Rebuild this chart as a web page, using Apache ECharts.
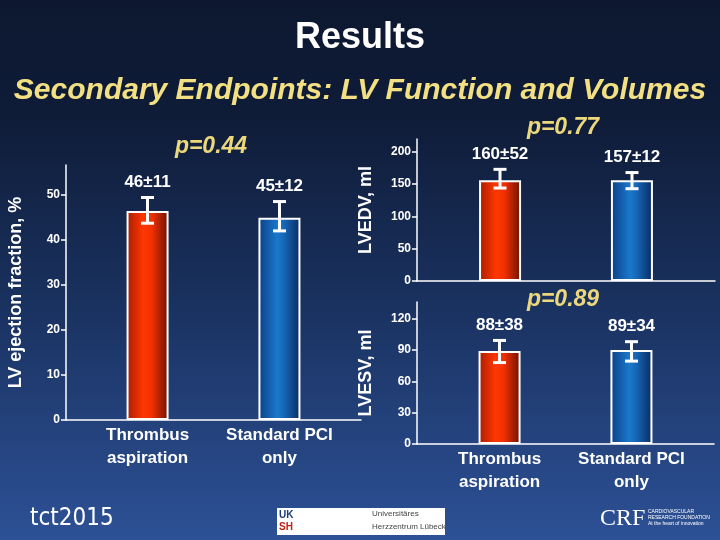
<!DOCTYPE html>
<html>
<head>
<meta charset="utf-8">
<script src="https://cdn.jsdelivr.net/npm/echarts@6/dist/echarts.min.js"></script>
<style>
html,body{margin:0;padding:0;width:720px;height:540px;overflow:hidden;background:#0d1830;}
#c{width:720px;height:540px;}
</style>
</head>
<body>
<div id="c"></div>
<script>
// ---- data ----
const categories = ['Thrombus\naspiration', 'Standard PCI\nonly'];
const pValues = ['p=0.44', 'p=0.77', 'p=0.89'];

const efMean = [46.3, 44.8];
const efLow = [43.6, 41.9];
const efHigh = [49.3, 48.4];
const efLabels = ['46±11', '45±12'];
const efTicks = [0, 10, 20, 30, 40, 50];

const edvMean = [156, 156];
const edvLow = [144, 143];
const edvHigh = [173, 168];
const edvLabels = ['160±52', '157±12'];
const edvTicks = [0, 50, 100, 150, 200];

const esvMean = [89, 90];
const esvLow = [78, 79.4];
const esvHigh = [99.2, 98];
const esvLabels = ['88±38', '89±34'];
const esvTicks = [0, 30, 60, 90, 120];

// ---- style ----
const FONT = '"Liberation Sans", Arial, sans-serif';
const BAR_W = 42;
const BAR_GAP_PX = 90;
const redGrad = {type:'linear',x:0,y:0,x2:1,y2:0,colorStops:[
  {offset:0,color:'#a81d00'},{offset:0.4,color:'#ff3700'},{offset:0.6,color:'#f23000'},{offset:1,color:'#6a1200'}]};
const blueGrad = {type:'linear',x:0,y:0,x2:1,y2:0,colorStops:[
  {offset:0,color:'#0b3f86'},{offset:0.45,color:'#1b78cc'},{offset:0.6,color:'#1668b8'},{offset:1,color:'#0a2a60'}]};

const chart = echarts.init(document.getElementById('c'), null, {renderer:'canvas'});

function yAxisFor(gridIndex, max, ticks, name) {
  return {
    type:'value', gridIndex, min:0, max,
    name, nameLocation:'middle', nameGap:42, nameRotate:90,
    nameTextStyle:{color:'#ffffff', fontFamily:FONT, fontWeight:'bold', fontSize:18},
    axisLine:{show:true, lineStyle:{color:'#ffffff', width:1.5}},
    axisTick:{show:true, inside:false, length:5, customValues:ticks, lineStyle:{color:'#ffffff', width:1.5}},
    axisLabel:{color:'#ffffff', fontFamily:FONT, fontWeight:'bold', fontSize:12, margin:6, customValues:ticks},
    splitLine:{show:false}
  };
}
function xAxisFor(gridIndex) {
  return {
    type:'category', gridIndex, data:['g'],
    axisLine:{show:true, lineStyle:{color:'#ffffff', width:1.5}},
    axisTick:{show:false}, axisLabel:{show:false}, splitLine:{show:false}
  };
}
function barsFor(idx, mean, showCat) {
  const grads = [redGrad, blueGrad];
  return [0,1].map(k => ({
    type:'bar', xAxisIndex:idx, yAxisIndex:idx,
    name: categories[k],
    data:[mean[k]],
    barWidth:BAR_W, barGap:(BAR_GAP_PX/BAR_W*100).toFixed(0)+'%',
    itemStyle:{color:grads[k], borderColor:'#ffffff', borderWidth:2},
    label:{show:showCat, position:'bottom', distance:4, formatter:categories[k],
      color:'#ffffff', fontFamily:FONT, fontWeight:'bold', fontSize:17, lineHeight:23, align:'center'},
    emphasis:{disabled:true},
    silent:true
  }));
}
function errorsFor(idx, low, high, labels) {
  const dx = (BAR_W + BAR_GAP_PX)/2;
  return {
    type:'custom', xAxisIndex:idx, yAxisIndex:idx, silent:true,
    data:[[0, low[0], high[0], 0], [0, low[1], high[1], 1]],
    encode:{x:0, y:[1,2]},
    z:10,
    renderItem:function(params, api){
      const k = api.value(3);
      const lo = api.coord([0, api.value(1)]);
      const hi = api.coord([0, api.value(2)]);
      const x = lo[0] + (k === 0 ? -dx : dx);
      const cap = 6.5;
      const st = {stroke:'#ffffff', lineWidth:3};
      return {type:'group', children:[
        {type:'line', shape:{x1:x, y1:lo[1], x2:x, y2:hi[1]}, style:st},
        {type:'line', shape:{x1:x-cap, y1:lo[1], x2:x+cap, y2:lo[1]}, style:st},
        {type:'line', shape:{x1:x-cap, y1:hi[1], x2:x+cap, y2:hi[1]}, style:st},
        {type:'text', style:{text:labels[k], x:x, y:hi[1]-15, textAlign:'center', textVerticalAlign:'middle',
          fill:'#ffffff', font:'bold 17px ' + FONT}}
      ]};
    }
  };
}

function txt(text, x, y, font, fill, align) {
  return {type:'text', silent:true, style:{text, x, y, font, fill, textAlign:align||'center', textVerticalAlign:'middle'}};
}

const option = {
  backgroundColor:{type:'linear',x:0,y:0,x2:0,y2:1,colorStops:[
    {offset:0,color:'#0d1830'},{offset:0.22,color:'#0f1c38'},{offset:0.6,color:'#1b3464'},{offset:1,color:'#2d5196'}]},
  animation:false,
  grid:[
    {left:66, right:359, top:165, bottom:120},
    {left:417, right:5, top:139, bottom:259},
    {left:417, right:6, top:302, bottom:96}
  ],
  xAxis:[xAxisFor(0), xAxisFor(1), xAxisFor(2)],
  yAxis:[
    Object.assign(yAxisFor(0, 56.5, efTicks, 'LV ejection fraction, %'), {nameGap:41}),
    yAxisFor(1, 220, edvTicks, 'LVEDV, ml'),
    yAxisFor(2, 136, esvTicks, 'LVESV, ml')
  ],
  series:[
    ...barsFor(0, efMean, true), errorsFor(0, efLow, efHigh, efLabels),
    ...barsFor(1, edvMean, false), errorsFor(1, edvLow, edvHigh, edvLabels),
    ...barsFor(2, esvMean, true), errorsFor(2, esvLow, esvHigh, esvLabels)
  ],
  graphic:[
    txt('Results', 360, 38, 'bold 36px ' + FONT, '#ffffff'),
    txt('Secondary Endpoints: LV Function and Volumes', 360, 91, 'italic bold 30px ' + FONT, '#f2e083'),
    txt(pValues[0], 211, 147, 'italic bold 23px ' + FONT, '#ecd87c'),
    txt(pValues[1], 563, 128, 'italic bold 23px ' + FONT, '#ecd87c'),
    txt(pValues[2], 563, 300, 'italic bold 23px ' + FONT, '#ecd87c'),
    // footer logos
    txt('tct2015', 30, 519, '24px "Liberation Sans Narrow", "DejaVu Sans Condensed", sans-serif', '#ffffff', 'left'),
    {type:'rect', silent:true, shape:{x:277, y:508, width:168, height:27}, style:{fill:'#ffffff'}},
    txt('UK', 279, 515, 'bold 10px ' + FONT, '#1a3a7a', 'left'),
    txt('SH', 279, 527, 'bold 10px ' + FONT, '#c0201a', 'left'),
    txt('Universitäres', 372, 514, '8px ' + FONT, '#444444', 'left'),
    txt('Herzzentrum Lübeck', 372, 527, '8px ' + FONT, '#444444', 'left'),
    txt('CRF', 600, 519, '24px "Liberation Serif", serif', '#ffffff', 'left'),
    txt('CARDIOVASCULAR', 648, 512, '5px ' + FONT, '#ffffff', 'left'),
    txt('RESEARCH FOUNDATION', 648, 518, '5px ' + FONT, '#ffffff', 'left'),
    txt('At the heart of innovation', 648, 524, '5px ' + FONT, '#ffffff', 'left')
  ]
};
chart.setOption(option);
</script>
</body>
</html>
